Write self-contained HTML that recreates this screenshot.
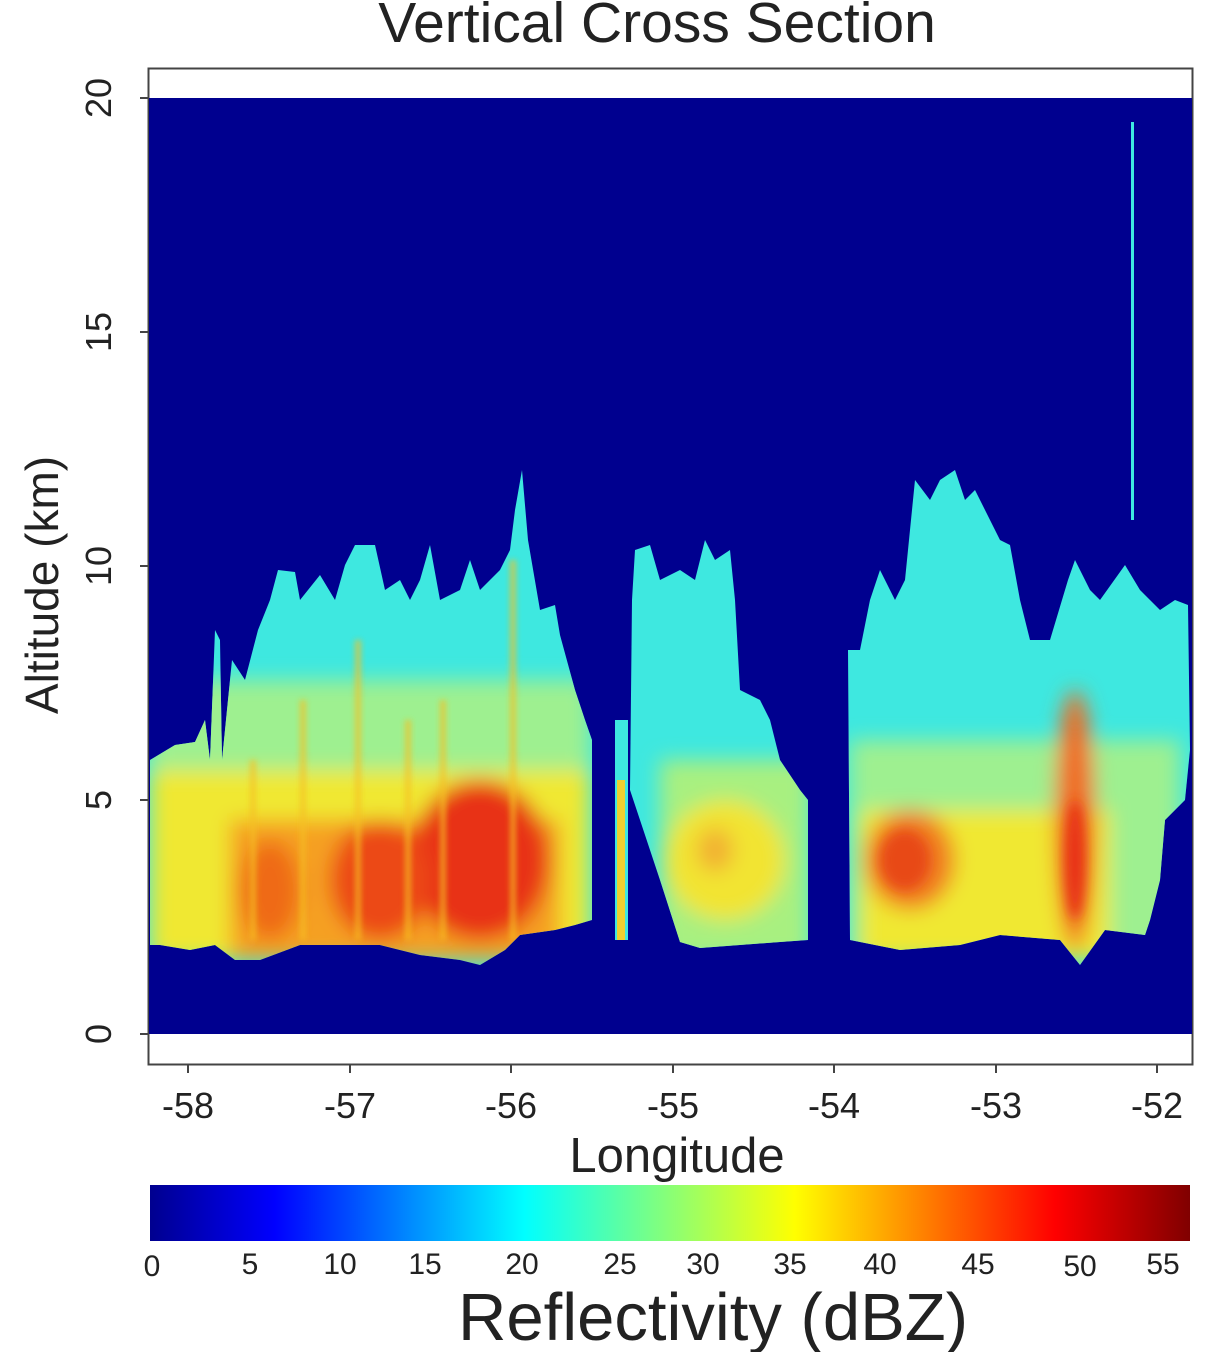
<!DOCTYPE html>
<html><head><meta charset="utf-8"><style>
body{margin:0;background:#fff;width:1220px;height:1352px;overflow:hidden;font-family:"Liberation Sans",Arial,sans-serif}
</style></head><body>
<svg width="1220" height="1352" viewBox="0 0 1220 1352" xmlns="http://www.w3.org/2000/svg" font-family="Liberation Sans, Arial, sans-serif">
<defs>
<filter id="b1" x="-20%" y="-20%" width="140%" height="140%"><feGaussianBlur stdDeviation="10"/></filter>
<filter id="b2" x="-20%" y="-20%" width="140%" height="140%"><feGaussianBlur stdDeviation="6"/></filter>
<filter id="b3" x="-50%" y="-10%" width="200%" height="120%"><feGaussianBlur stdDeviation="3"/></filter>
<clipPath id="c1"><polygon points="150,760 175,745 195,742 205,720 210,760 215,630 220,640 222,760 232,660 245,680 258,630 270,600 278,570 295,572 300,600 320,575 335,600 345,565 355,545 375,545 385,590 400,580 410,600 420,580 430,545 440,600 460,590 470,560 480,590 500,570 510,550 515,510 522,470 528,540 540,610 555,605 560,635 575,690 585,720 592,740 592,920 575,925 555,930 520,935 505,950 480,965 460,960 420,955 380,945 300,945 260,960 235,960 215,945 190,950 160,945 150,945"/></clipPath>
<clipPath id="c2"><polygon points="615,720 628,720 628,940 615,940"/></clipPath>
<clipPath id="c3"><polygon points="635,550 650,545 660,580 680,570 695,580 705,540 715,560 730,550 735,600 740,690 760,700 770,720 780,760 800,790 808,800 808,940 780,942 700,948 680,942 660,880 640,820 630,790 632,600"/></clipPath>
<clipPath id="c4"><polygon points="848,650 860,650 870,600 880,570 895,600 905,580 915,480 930,500 940,480 955,470 965,500 975,490 990,520 1000,540 1010,545 1020,600 1030,640 1050,640 1068,580 1075,560 1090,590 1100,600 1125,565 1140,590 1150,600 1160,610 1175,600 1188,605 1190,750 1185,800 1165,820 1160,880 1150,920 1145,935 1105,930 1080,965 1060,940 1000,935 960,945 900,950 875,945 850,940"/></clipPath>
<linearGradient id="jet" x1="0" x2="1" y1="0" y2="0">
<stop offset="0" stop-color="#00008f"/>
<stop offset="0.12" stop-color="#0000ff"/>
<stop offset="0.36" stop-color="#00ffff"/>
<stop offset="0.62" stop-color="#ffff00"/>
<stop offset="0.87" stop-color="#ff0000"/>
<stop offset="1" stop-color="#800000"/>
</linearGradient>
</defs>
<text x="657" y="42" font-size="57" text-anchor="middle" fill="#222">Vertical Cross Section</text>
<rect x="148.5" y="68.5" width="1044" height="996" fill="#fff" stroke="#444" stroke-width="2"/>
<rect x="149" y="98" width="1043" height="936" fill="#00008f"/>
<g clip-path="url(#c1)">
<rect x="140" y="450" width="470" height="520" fill="#3ee8e0"/>
<g filter="url(#b1)">
<rect x="150" y="680" width="440" height="280" fill="#9ef090"/>
<rect x="150" y="770" width="440" height="190" fill="#f0e830"/>
<rect x="230" y="820" width="330" height="140" fill="#f5a020"/>
<ellipse cx="480" cy="860" rx="70" ry="80" fill="#e83018"/>
<ellipse cx="380" cy="880" rx="50" ry="60" fill="#ec4a18"/>
<ellipse cx="270" cy="890" rx="30" ry="50" fill="#ef6a18"/>
</g>
<g fill="#f5c020" opacity="0.7" filter="url(#b3)"><rect x="355" y="640" width="6" height="300"/><rect x="405" y="720" width="6" height="220"/><rect x="440" y="700" width="6" height="240"/><rect x="510" y="560" width="6" height="380"/><rect x="300" y="700" width="6" height="240"/><rect x="250" y="760" width="6" height="180"/></g>
</g>
<g clip-path="url(#c2)"><rect x="600" y="700" width="40" height="260" fill="#3ee8e0"/><rect x="617" y="780" width="8" height="160" fill="#f0d030"/></g>
<g clip-path="url(#c3)">
<rect x="620" y="520" width="200" height="440" fill="#3ee8e0"/>
<g filter="url(#b1)">
<rect x="660" y="760" width="150" height="200" fill="#a8f080"/>
<ellipse cx="725" cy="860" rx="60" ry="60" fill="#f2e430"/>
<ellipse cx="715" cy="850" rx="18" ry="22" fill="#f2b030"/>
</g>
</g>
<g clip-path="url(#c4)">
<rect x="840" y="460" width="360" height="520" fill="#3ee8e0"/>
<g filter="url(#b1)">
<rect x="850" y="740" width="330" height="220" fill="#9ef090"/>
<rect x="860" y="810" width="250" height="150" fill="#f0e830"/>
<ellipse cx="910" cy="860" rx="45" ry="50" fill="#f07a20"/>
<ellipse cx="1075" cy="820" rx="20" ry="130" fill="#f06a20"/>
</g>
<g filter="url(#b2)"><ellipse cx="905" cy="860" rx="25" ry="30" fill="#e84a18"/><ellipse cx="1075" cy="860" rx="10" ry="60" fill="#e83018"/></g>
</g>
<rect x="1131" y="122" width="3" height="398" fill="#3ee8e0"/>
<g stroke="#444" stroke-width="2">
<line x1="140" y1="1034" x2="148" y2="1034"/><line x1="140" y1="800" x2="148" y2="800"/><line x1="140" y1="566" x2="148" y2="566"/><line x1="140" y1="332" x2="148" y2="332"/><line x1="140" y1="98" x2="148" y2="98"/>
<line x1="188" y1="1065" x2="188" y2="1073"/><line x1="350" y1="1065" x2="350" y2="1073"/><line x1="511" y1="1065" x2="511" y2="1073"/><line x1="673" y1="1065" x2="673" y2="1073"/><line x1="834" y1="1065" x2="834" y2="1073"/><line x1="996" y1="1065" x2="996" y2="1073"/><line x1="1157" y1="1065" x2="1157" y2="1073"/>
</g>
<g font-size="36" fill="#222" text-anchor="middle">
<text transform="translate(111,1034) rotate(-90)">0</text>
<text transform="translate(111,800) rotate(-90)">5</text>
<text transform="translate(111,566) rotate(-90)">10</text>
<text transform="translate(111,332) rotate(-90)">15</text>
<text transform="translate(111,98) rotate(-90)">20</text>
<text x="188" y="1118">-58</text><text x="350" y="1118">-57</text><text x="511" y="1118">-56</text><text x="673" y="1118">-55</text><text x="834" y="1118">-54</text><text x="996" y="1118">-53</text><text x="1157" y="1118">-52</text>
</g>
<text transform="translate(58,585) rotate(-90)" font-size="46" fill="#222" text-anchor="middle">Altitude (km)</text>
<text x="677" y="1172" font-size="49" fill="#222" text-anchor="middle">Longitude</text>
<rect x="150" y="1185" width="1040" height="56" fill="url(#jet)"/>
<g font-size="30" fill="#222" text-anchor="middle">
<text x="152" y="1276">0</text><text x="250" y="1274">5</text><text x="340" y="1274">10</text><text x="425" y="1274">15</text><text x="522" y="1274">20</text><text x="620" y="1274">25</text><text x="703" y="1274">30</text><text x="790" y="1274">35</text><text x="880" y="1274">40</text><text x="978" y="1274">45</text><text x="1080" y="1276">50</text><text x="1163" y="1274">55</text>
</g>
<text x="713" y="1340" font-size="67" fill="#222" text-anchor="middle">Reflectivity (dBZ)</text>
</svg>
</body></html>
